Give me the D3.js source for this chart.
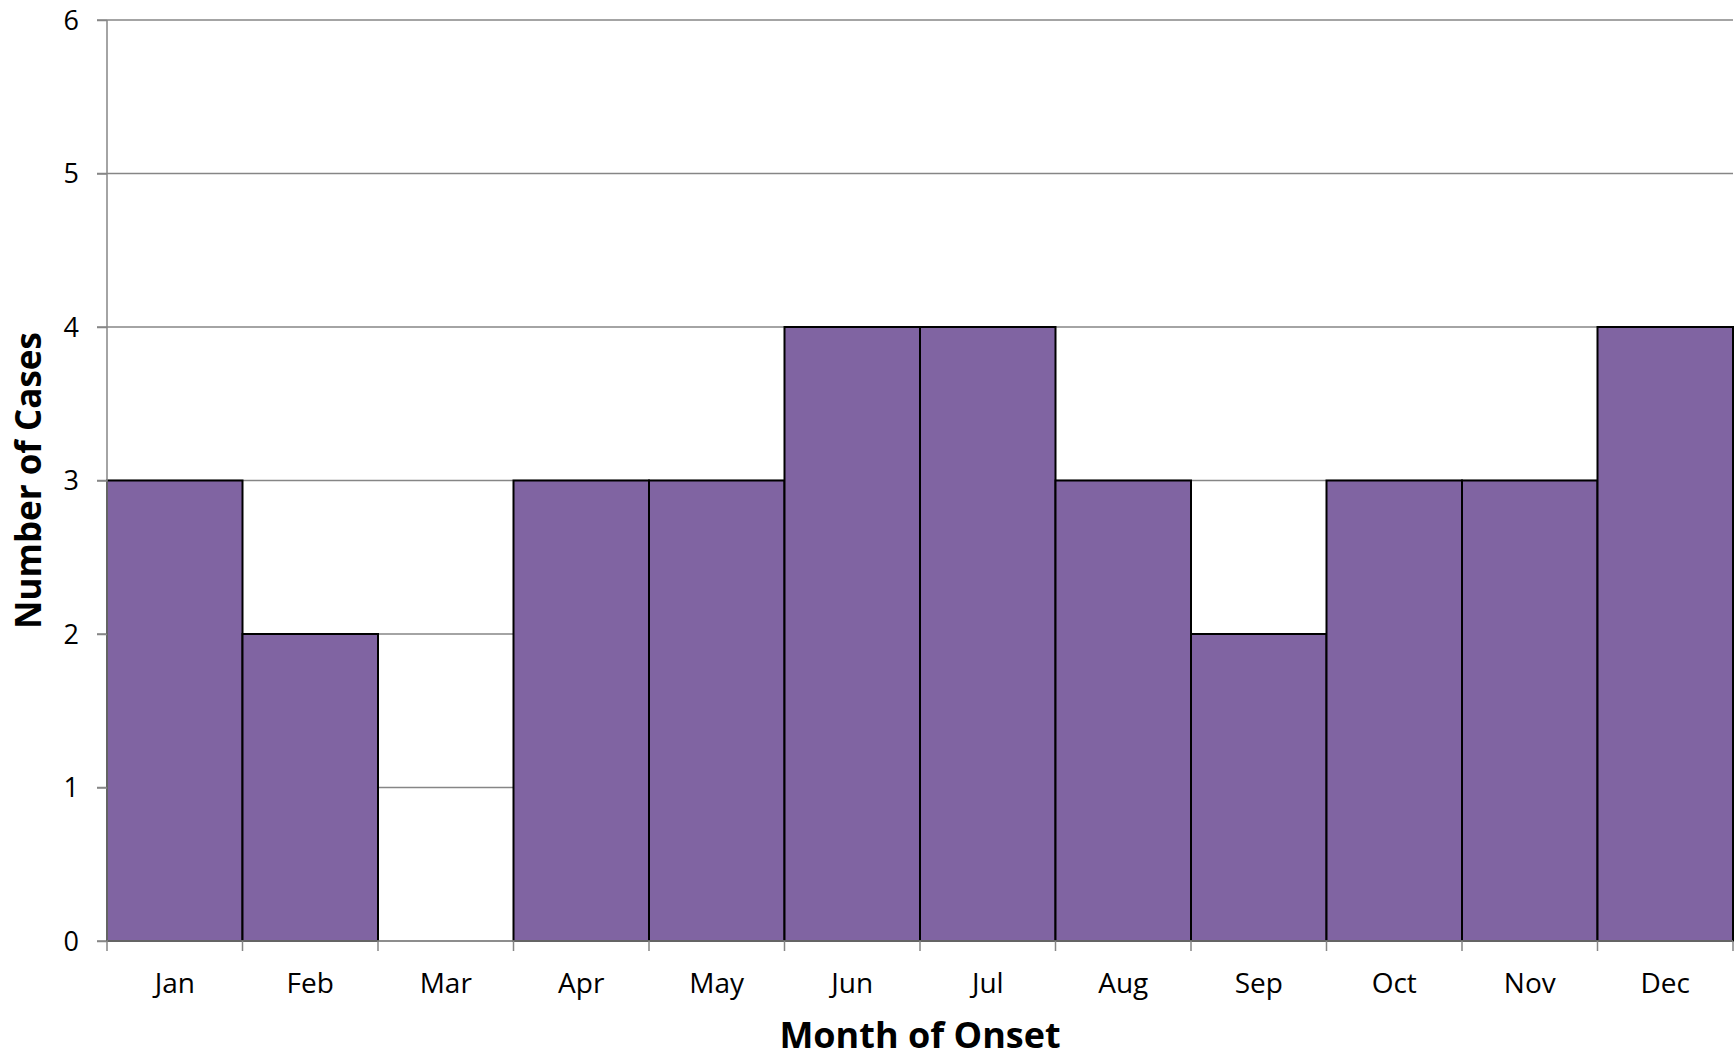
<!DOCTYPE html>
<html>
<head>
<meta charset="utf-8">
<script src="https://cdn.jsdelivr.net/npm/d3@7"></script>
<style>
  body { margin: 0; background: #fff; }
  text { font-family: "Open Sans", "Noto Sans", sans-serif; fill: #000; }
</style>
</head>
<body>
<div id="chart"></div>
<script>
let months = ["Jan", "Feb", "Mar", "Apr", "May", "Jun", "Jul", "Aug", "Sep", "Oct", "Nov", "Dec"]
let cases = [3, 2, 0, 3, 3, 4, 4, 3, 2, 3, 3, 4]
let yTicks = [0, 1, 2, 3, 4, 5, 6]

let margin = {top: 20, right: 3, bottom: 115, left: 107}
let width = 1736 - margin.left - margin.right
let height = 1056 - margin.top - margin.bottom

let svg = d3.select("#chart")
    .append("svg")
    .attr("width", 1736)
    .attr("height", 1056)
    .append("g")
    .attr("transform", "translate(" + margin.left + "," + margin.top + ")")

let x = d3.scaleBand()
    .domain(months)
    .range([0, width])
    .padding(0)

let y = d3.scaleLinear()
    .domain([0, 6])
    .range([height, 0])

// gridlines
svg.append("g")
    .selectAll("line")
    .data(yTicks)
    .enter()
    .append("line")
    .attr("x1", -10)
    .attr("x2", width)
    .attr("y1", d => y(d))
    .attr("y2", d => y(d))
    .attr("stroke", "#868686")
    .attr("stroke-width", 1.5)

// bars
svg.append("g")
    .selectAll("rect")
    .data(cases)
    .enter()
    .append("rect")
    .attr("x", (d, i) => x(months[i]))
    .attr("y", d => y(d))
    .attr("width", x.bandwidth())
    .attr("height", d => height - y(d))
    .attr("fill", "#8064a2")
    .attr("stroke", d => d > 0 ? "#000" : "none")
    .attr("stroke-width", 2)

// y axis
let yAxis = svg.append("g")
    .call(d3.axisLeft(y).tickValues(yTicks).tickSize(10).tickPadding(18).tickFormat(d3.format("d")))
yAxis.select(".domain").remove()
yAxis.selectAll(".tick line").attr("stroke", "#868686").attr("stroke-width", 1.5)
yAxis.selectAll("text").style("font-size", "27px").attr("dy", "0.35em")

svg.append("line")
    .attr("x1", 0).attr("x2", 0)
    .attr("y1", 0).attr("y2", height)
    .attr("stroke", "#868686")
    .attr("stroke-width", 1.5)

// x axis
let xAxis = svg.append("g")
    .attr("transform", "translate(0," + height + ")")
    .call(d3.axisBottom(x).tickSize(0).tickPadding(32))
xAxis.select(".domain").remove()
xAxis.selectAll("text").style("font-size", "28px")

svg.append("line")
    .attr("x1", 0).attr("x2", width)
    .attr("y1", height).attr("y2", height)
    .attr("stroke", "#868686")
    .attr("stroke-width", 1.5)

// x tick marks at bin edges
svg.append("g")
    .selectAll("line")
    .data(months.concat(["end"]))
    .enter()
    .append("line")
    .attr("x1", (d, i) => i < months.length ? x(d) : width)
    .attr("x2", (d, i) => i < months.length ? x(d) : width)
    .attr("y1", height)
    .attr("y2", height + 10)
    .attr("stroke", "#868686")
    .attr("stroke-width", 1.5)

// axis titles
svg.append("text")
    .attr("x", width / 2)
    .attr("y", height + 107)
    .attr("text-anchor", "middle")
    .style("font-size", "36px")
    .style("font-weight", "bold")
    .text("Month of Onset")

svg.append("text")
    .attr("transform", "translate(" + (-66) + "," + (height / 2) + ") rotate(-90)")
    .attr("text-anchor", "middle")
    .style("font-size", "35px")
    .style("font-weight", "bold")
    .text("Number of Cases")
</script>
</body>
</html>
